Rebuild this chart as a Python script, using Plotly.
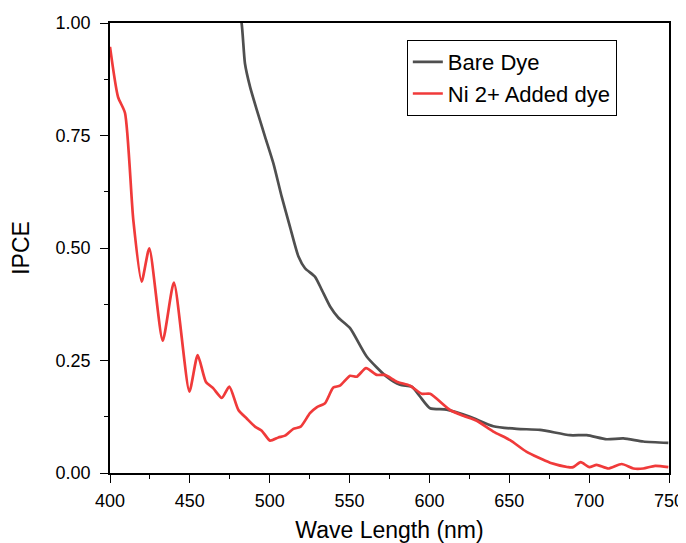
import plotly.graph_objects as go

# Bare dye
bare_x = [470, 478, 482.4, 484.5, 487.7, 491.9, 497.1, 502.3, 507.5, 512.7, 518, 522.1, 528.4,
          532.6, 537.8, 543, 550.3, 560.7, 573.2, 581.6, 588.9, 594.1, 600.4, 610.8, 625.4,
          640, 654.7, 669.2, 688, 698.5, 711, 721.4, 733.9, 749.6]
bare_y = [1.25, 1.08, 1.0, 0.91, 0.858, 0.807, 0.747, 0.688, 0.614, 0.547, 0.481, 0.455, 0.436,
          0.407, 0.37, 0.345, 0.322, 0.259, 0.214, 0.196, 0.192, 0.17, 0.144, 0.141, 0.125,
          0.104, 0.098, 0.096, 0.084, 0.084, 0.075, 0.077, 0.07, 0.067]

# Ni 2+ added dye
ni_x = [400, 405, 409.4, 414.6, 419.8, 424.6, 433, 440, 449.7, 454.9, 460, 464.7, 470, 474.7,
        480.4, 485.6, 490.8, 495, 500.2, 505.4, 509.6, 514.8, 519.4, 525.2, 529.4, 534.6,
        539.8, 544, 550.3, 554.5, 560.3, 567, 572.2, 579.5, 587.9, 595.2, 600.4, 612.9,
        621.2, 629.6, 640, 650.5, 660.9, 675.5, 687, 690, 694.7, 700.1, 704.7, 712, 720.4,
        727.7, 733.9, 741.3, 749.6]
ni_y = [0.947, 0.836, 0.80, 0.562, 0.425, 0.499, 0.294, 0.423, 0.181, 0.262, 0.203, 0.188,
        0.167, 0.192, 0.14, 0.121, 0.103, 0.094, 0.072, 0.079, 0.083, 0.098, 0.103, 0.133,
        0.146, 0.155, 0.19, 0.194, 0.216, 0.214, 0.233, 0.218, 0.218, 0.203, 0.194, 0.176,
        0.176, 0.14, 0.127, 0.116, 0.092, 0.073, 0.047, 0.023, 0.013, 0.013, 0.024, 0.013,
        0.018, 0.010, 0.02, 0.010, 0.010, 0.016, 0.013]

x_ticks = [400, 450, 500, 550, 600, 650, 700, 750]
y_ticks = [0.0, 0.25, 0.5, 0.75, 1.0]
y_tick_text = ["0.00", "0.25", "0.50", "0.75", "1.00"]

FONT = "Liberation Sans, Arial"

fig = go.Figure()
fig.add_trace(go.Scatter(x=bare_x, y=bare_y, mode="lines", name="Bare Dye",
                         line=dict(color="#4f4f4f", width=2.7, shape="spline", smoothing=0.6)))
fig.add_trace(go.Scatter(x=ni_x, y=ni_y, mode="lines", name="Ni 2+ Added dye",
                         line=dict(color="#f03a3a", width=2.7, shape="spline", smoothing=0.6)))

axis_common = dict(showline=True, linecolor="black", linewidth=1.5, mirror=True,
                   showgrid=False, zeroline=False, ticks="outside", ticklen=8,
                   tickwidth=1.3, tickcolor="black",
                   tickfont=dict(family=FONT, size=18, color="black"))

fig.update_xaxes(range=[400, 750], tickvals=x_ticks, ticklabelstandoff=3,
                 title=dict(text="Wave Length (nm)", standoff=14,
                            font=dict(family=FONT, size=23, color="black")),
                 minor=dict(ticks="outside", ticklen=4, dtick=25, tickcolor="black", tickwidth=1.2),
                 **axis_common)
fig.update_yaxes(range=[0, 1.0], tickvals=y_ticks, ticktext=y_tick_text, ticklabelstandoff=6,
                 title=dict(text="IPCE", standoff=20,
                            font=dict(family=FONT, size=23, color="black")),
                 minor=dict(ticks="outside", ticklen=4, dtick=0.125, tickcolor="black", tickwidth=1.2),
                 **axis_common)

fig.update_layout(
    width=678, height=535,
    margin=dict(l=102, r=17, t=15, b=70, autoexpand=False),
    plot_bgcolor="white", paper_bgcolor="white",
    legend=dict(x=0.531, y=0.962, xanchor="left", yanchor="top",
                bordercolor="black", borderwidth=1, bgcolor="white",
                font=dict(family=FONT, size=22, color="black"),
                tracegroupgap=0, itemwidth=30),
    showlegend=True,
)

fig.write_html("out.html")
